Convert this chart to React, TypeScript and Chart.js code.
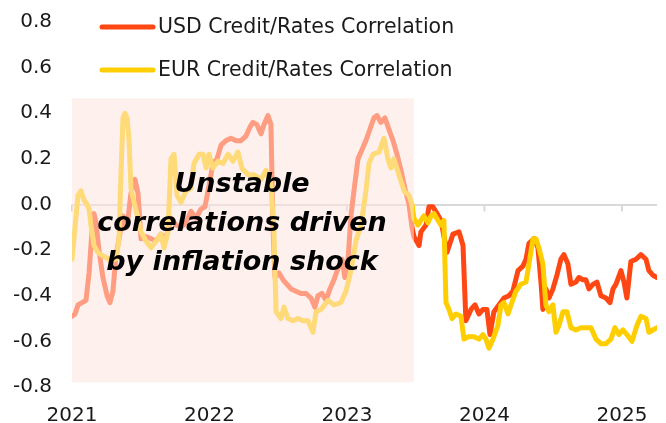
import { useEffect, useRef } from 'react';
import { Chart, registerables } from 'chart.js';

Chart.register(...registerables);

// ---- data ----
const years = [2021, 2022, 2023, 2024, 2025];
const seriesNames = ['USD Credit/Rates Correlation', 'EUR Credit/Rates Correlation'];
const annotationLines = ['Unstable', 'correlations driven', 'by inflation shock'];

// shaded "inflation shock" period (decimal years / correlation units)
const shadeStart = 2021.0;
const shadeEnd = 2023.487;
const shadeTop = 0.465;
const shadeBottom = -0.78;

const usdDates = [
  2021.000, 2021.022, 2021.044, 2021.073, 2021.102, 2021.124, 2021.145, 2021.160, 2021.175, 2021.196,
  2021.225, 2021.255, 2021.276, 2021.298, 2021.320, 2021.342, 2021.371, 2021.400, 2021.429, 2021.458,
  2021.480, 2021.502, 2021.538, 2021.575, 2021.611, 2021.647, 2021.684, 2021.720, 2021.756, 2021.793,
  2021.829, 2021.865, 2021.902, 2021.938, 2021.967, 2021.996, 2022.025, 2022.055, 2022.084, 2022.120,
  2022.156, 2022.193, 2022.229, 2022.265, 2022.295, 2022.316, 2022.345, 2022.375, 2022.396, 2022.425,
  2022.447, 2022.462, 2022.476, 2022.505, 2022.535, 2022.564, 2022.593, 2022.629, 2022.665, 2022.702,
  2022.738, 2022.767, 2022.789, 2022.818, 2022.847, 2022.876, 2022.905, 2022.935, 2022.964, 2022.985,
  2023.007, 2023.029, 2023.051, 2023.080, 2023.109, 2023.138, 2023.167, 2023.196, 2023.218, 2023.247,
  2023.276, 2023.305, 2023.335, 2023.364, 2023.393, 2023.422, 2023.451, 2023.473, 2023.487, 2023.524,
  2023.538, 2023.575, 2023.596, 2023.625, 2023.655, 2023.684, 2023.727, 2023.771, 2023.815, 2023.844,
  2023.865, 2023.902, 2023.931, 2023.960, 2023.989, 2024.018, 2024.040, 2024.069, 2024.105, 2024.142,
  2024.178, 2024.207, 2024.244, 2024.280, 2024.302, 2024.324, 2024.360, 2024.389, 2024.411, 2024.425,
  2024.447, 2024.469, 2024.498, 2024.527, 2024.556, 2024.578, 2024.607, 2024.629, 2024.665, 2024.687,
  2024.716, 2024.738, 2024.760, 2024.789, 2024.818, 2024.847, 2024.884, 2024.913, 2024.935, 2024.956,
  2024.993, 2025.015, 2025.036, 2025.065, 2025.102, 2025.138, 2025.175, 2025.196, 2025.225, 2025.255,
];
const usdValues = [
  -0.49, -0.48, -0.44, -0.43, -0.42, -0.30, -0.12, -0.04, -0.08, -0.20,
  -0.32, -0.40, -0.43, -0.38, -0.22, -0.15, -0.05, -0.10, 0.05, 0.11,
  0.05, -0.15, -0.14, -0.15, -0.16, -0.13, -0.15, -0.06, -0.09, -0.10,
  -0.08, -0.03, -0.06, -0.02, -0.01, 0.08, 0.18, 0.20, 0.26, 0.28,
  0.29, 0.28, 0.28, 0.30, 0.34, 0.36, 0.35, 0.31, 0.35, 0.39,
  0.35, -0.10, -0.32, -0.30, -0.33, -0.35, -0.37, -0.38, -0.39, -0.39,
  -0.41, -0.45, -0.40, -0.39, -0.42, -0.37, -0.33, -0.28, -0.24, -0.32,
  -0.25, -0.05, 0.06, 0.20, 0.24, 0.28, 0.33, 0.38, 0.39, 0.36,
  0.38, 0.33, 0.28, 0.22, 0.15, 0.07, 0.00, -0.10, -0.14, -0.18,
  -0.12, -0.09, -0.01, -0.01, -0.04, -0.07, -0.21, -0.13, -0.12, -0.18,
  -0.51, -0.46, -0.44, -0.48, -0.46, -0.46, -0.57, -0.47, -0.44, -0.41,
  -0.40, -0.38, -0.29, -0.27, -0.24, -0.17, -0.15, -0.19, -0.34, -0.46,
  -0.37, -0.41, -0.37, -0.31, -0.24, -0.22, -0.26, -0.35, -0.34, -0.32,
  -0.33, -0.33, -0.37, -0.35, -0.34, -0.40, -0.41, -0.43, -0.37, -0.35,
  -0.29, -0.34, -0.41, -0.25, -0.24, -0.22, -0.24, -0.29, -0.31, -0.32,
];

const eurDates = [
  2021.000, 2021.022, 2021.044, 2021.065, 2021.087, 2021.109, 2021.124, 2021.138, 2021.160, 2021.189,
  2021.211, 2021.240, 2021.269, 2021.298, 2021.320, 2021.342, 2021.356, 2021.371, 2021.385, 2021.400,
  2021.415, 2021.429, 2021.451, 2021.480, 2021.502, 2021.538, 2021.575, 2021.611, 2021.647, 2021.669,
  2021.698, 2021.720, 2021.742, 2021.764, 2021.793, 2021.829, 2021.865, 2021.887, 2021.924, 2021.953,
  2021.975, 2021.996, 2022.025, 2022.062, 2022.098, 2022.135, 2022.171, 2022.207, 2022.236, 2022.280,
  2022.324, 2022.375, 2022.411, 2022.447, 2022.469, 2022.484, 2022.520, 2022.542, 2022.571, 2022.607,
  2022.644, 2022.680, 2022.716, 2022.753, 2022.775, 2022.811, 2022.862, 2022.905, 2022.956, 2022.993,
  2023.029, 2023.065, 2023.102, 2023.138, 2023.160, 2023.189, 2023.233, 2023.269, 2023.298, 2023.320,
  2023.342, 2023.378, 2023.415, 2023.451, 2023.473, 2023.487, 2023.516, 2023.538, 2023.560, 2023.589,
  2023.611, 2023.633, 2023.662, 2023.684, 2023.705, 2023.720, 2023.742, 2023.764, 2023.793, 2023.829,
  2023.851, 2023.880, 2023.924, 2023.960, 2023.989, 2024.011, 2024.033, 2024.062, 2024.098, 2024.120,
  2024.142, 2024.171, 2024.193, 2024.229, 2024.265, 2024.302, 2024.324, 2024.353, 2024.375, 2024.396,
  2024.425, 2024.447, 2024.469, 2024.498, 2024.520, 2024.542, 2024.571, 2024.600, 2024.629, 2024.665,
  2024.702, 2024.738, 2024.775, 2024.811, 2024.847, 2024.884, 2024.920, 2024.949, 2024.978, 2025.007,
  2025.036, 2025.073, 2025.109, 2025.138, 2025.175, 2025.196, 2025.225, 2025.255,
];
const eurValues = [
  -0.24, -0.10, 0.04, 0.06, 0.02, 0.00, -0.02, -0.09, -0.18, -0.21,
  -0.22, -0.23, -0.24, -0.24, -0.24, -0.15, 0.13, 0.38, 0.40, 0.38,
  0.28, 0.07, 0.01, -0.06, -0.12, -0.16, -0.19, -0.16, -0.13, -0.19,
  -0.12, 0.20, 0.22, 0.04, 0.01, 0.06, 0.07, 0.18, 0.22, 0.22,
  0.16, 0.22, 0.16, 0.19, 0.18, 0.22, 0.19, 0.23, 0.16, 0.13,
  0.13, 0.11, 0.15, 0.09, -0.12, -0.47, -0.50, -0.45, -0.50, -0.51,
  -0.50, -0.51, -0.51, -0.56, -0.47, -0.46, -0.42, -0.44, -0.43, -0.38,
  -0.29, -0.16, -0.09, 0.06, 0.18, 0.22, 0.23, 0.29, 0.20, 0.16,
  0.20, 0.13, 0.06, 0.04, 0.00, -0.06, -0.09, -0.07, -0.05, -0.08,
  -0.05, -0.04, -0.07, -0.09, -0.07, -0.43, -0.46, -0.50, -0.48, -0.49,
  -0.59, -0.58, -0.58, -0.59, -0.57, -0.59, -0.63, -0.59, -0.53, -0.44,
  -0.43, -0.48, -0.44, -0.38, -0.35, -0.34, -0.26, -0.15, -0.15, -0.19,
  -0.26, -0.44, -0.47, -0.44, -0.56, -0.53, -0.47, -0.47, -0.54, -0.55,
  -0.54, -0.54, -0.54, -0.59, -0.61, -0.61, -0.59, -0.54, -0.57, -0.55,
  -0.57, -0.60, -0.53, -0.49, -0.50, -0.56, -0.55, -0.54,
];

const USD_COLOR = '#FF4713';
const EUR_COLOR = '#FFCE00';
const FONT = '"DejaVu Sans", sans-serif';
const TEXT_COLOR = '#1a1a1a';

function toPoints(dates: number[], values: number[]) {
  const n = Math.min(dates.length, values.length);
  const out: { x: number; y: number }[] = [];
  for (let i = 0; i < n; i++) out.push({ x: dates[i], y: values[i] });
  return out;
}

const decorPlugin = {
  id: 'decor',
  beforeDatasetsDraw(chart: any) {
    const { ctx, scales } = chart;
    const x = scales.x;
    const y = scales.y;
    const y0 = y.getPixelForValue(0);
    ctx.save();
    ctx.strokeStyle = '#d9d9d9';
    ctx.lineWidth = 2;
    years.forEach((yr) => {
      const px = x.getPixelForValue(yr);
      ctx.beginPath();
      ctx.moveTo(px, y0);
      ctx.lineTo(px, y0 + 7);
      ctx.stroke();
    });
    ctx.restore();
  },
  afterDatasetsDraw(chart: any) {
    const { ctx, scales } = chart;
    const x = scales.x;
    const y = scales.y;
    const l = x.getPixelForValue(shadeStart);
    const r = x.getPixelForValue(shadeEnd);
    const t = y.getPixelForValue(shadeTop);
    const b = y.getPixelForValue(shadeBottom);
    ctx.save();
    ctx.fillStyle = 'rgba(253,228,220,0.55)';
    ctx.fillRect(l, t, r - l, b - t);
    ctx.restore();
  },
  afterDraw(chart: any) {
    const { ctx } = chart;
    ctx.save();
    // annotation
    ctx.fillStyle = '#000';
    ctx.font = `oblique bold 27px ${FONT}`;
    ctx.textAlign = 'center';
    ctx.textBaseline = 'alphabetic';
    const baselines = [192, 231, 270];
    annotationLines.forEach((line, i) => {
      ctx.fillText(line, 242, baselines[i]);
    });
    // legend
    const colors = [USD_COLOR, EUR_COLOR];
    const ys = [27, 70];
    ctx.font = `20.5px ${FONT}`;
    ctx.textAlign = 'left';
    ctx.textBaseline = 'middle';
    seriesNames.forEach((name, i) => {
      ctx.strokeStyle = colors[i];
      ctx.lineWidth = 5;
      ctx.lineCap = 'round';
      ctx.beginPath();
      ctx.moveTo(102, ys[i]);
      ctx.lineTo(153, ys[i]);
      ctx.stroke();
      ctx.fillStyle = TEXT_COLOR;
      ctx.fillText(name, 158, ys[i] + 1);
    });
    ctx.restore();
  },
};

export default function App() {
  const ref = useRef<HTMLCanvasElement | null>(null);
  useEffect(() => {
    if (!ref.current) return;
    const chart = new Chart(ref.current, {
      type: 'line',
      data: {
        datasets: [
          {
            label: seriesNames[0],
            data: toPoints(usdDates, usdValues),
            borderColor: USD_COLOR,
            borderWidth: 5,
            pointRadius: 0,
            tension: 0,
            borderJoinStyle: 'round',
            borderCapStyle: 'round',
            order: 2,
          },
          {
            label: seriesNames[1],
            data: toPoints(eurDates, eurValues),
            borderColor: EUR_COLOR,
            borderWidth: 5,
            pointRadius: 0,
            tension: 0,
            borderJoinStyle: 'round',
            borderCapStyle: 'round',
            order: 1,
          },
        ],
      },
      options: {
        responsive: false,
        animation: false,
        devicePixelRatio: 1,
        layout: { padding: { top: 22, right: 9, left: 0, bottom: 0 } },
        plugins: { legend: { display: false }, tooltip: { enabled: false } },
        scales: {
          x: {
            type: 'linear',
            min: years[0],
            max: usdDates[usdDates.length - 1],
            grid: { display: false },
            border: { display: false },
            afterBuildTicks: (scale: any) => {
              scale.ticks = years.map((v) => ({ value: v }));
            },
            afterFit: (scale: any) => {
              scale.height = 36;
            },
            ticks: {
              autoSkip: false,
              maxRotation: 0,
              padding: 9,
              color: TEXT_COLOR,
              font: { family: FONT, size: 20 },
              callback: (v: any) => String(v),
            },
          },
          y: {
            min: -0.8,
            max: 0.8,
            border: { display: false },
            grid: {
              drawTicks: false,
              lineWidth: 2,
              color: (c: any) => (c.tick && Math.abs(c.tick.value) < 1e-9 ? '#d9d9d9' : 'rgba(0,0,0,0)'),
            },
            afterFit: (scale: any) => {
              scale.width = 72;
              scale.paddingTop = 0;
              scale.paddingBottom = 0;
            },
            ticks: {
              stepSize: 0.2,
              padding: 20,
              color: TEXT_COLOR,
              font: { family: FONT, size: 20 },
              callback: (v: any) => (Math.abs(Number(v)) < 1e-9 ? '0.0' : Number(v).toFixed(1)),
            },
          },
        },
      },
      plugins: [decorPlugin],
    });
    return () => chart.destroy();
  }, []);
  return (
    <div style={{ position: 'fixed', left: 0, top: 0, width: 666, height: 423, background: '#fff' }}>
      <canvas ref={ref} width={666} height={423} style={{ width: 666, height: 423 }} />
    </div>
  );
}
